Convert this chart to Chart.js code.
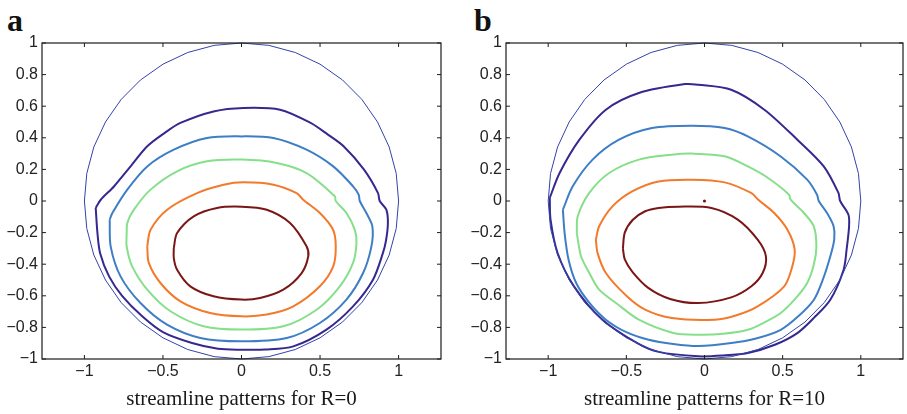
<!DOCTYPE html>
<html><head><meta charset="utf-8">
<script src="https://cdn.jsdelivr.net/npm/chart.js@4/dist/chart.umd.min.js"></script>
<style>
html,body{margin:0;padding:0;background:#fff;width:907px;height:414px;overflow:hidden;}
canvas{position:absolute;top:0;}
.lab{position:absolute;font-family:"Liberation Serif","Times New Roman",serif;font-weight:bold;font-size:32px;line-height:30px;color:#111;}
</style></head><body>
<div class="lab" style="left:7px;top:5px;">a</div>
<div class="lab" style="left:474px;top:5px;">b</div>
<canvas id="ca" width="460" height="414" style="left:0px;"></canvas>
<canvas id="cb" width="447" height="414" style="left:460px;"></canvas>
<script>
// ---- tick values / labels ----
const xTicks = [-1, -0.5, 0, 0.5, 1];
const yTicks = [-1, -0.8, -0.6, -0.4, -0.2, 0, 0.2, 0.4, 0.6, 0.8, 1];
const titleA = "streamline patterns for R=0";
const titleB = "streamline patterns for R=10";

// ---- boundary (unit circle, read points) ----
const boundary = [[1,0],[0.985,0.174],[0.94,0.342],[0.866,0.5],[0.766,0.643],[0.643,0.766],[0.5,0.866],[0.342,0.94],[0.174,0.985],[0,1],
 [-0.174,0.985],[-0.342,0.94],[-0.5,0.866],[-0.643,0.766],[-0.766,0.643],[-0.866,0.5],[-0.94,0.342],[-0.985,0.174],[-1,0],
 [-0.985,-0.174],[-0.94,-0.342],[-0.866,-0.5],[-0.766,-0.643],[-0.643,-0.766],[-0.5,-0.866],[-0.342,-0.94],[-0.174,-0.985],[0,-1],
 [0.174,-0.985],[0.342,-0.94],[0.5,-0.866],[0.643,-0.766],[0.766,-0.643],[0.866,-0.5],[0.94,-0.342],[0.985,-0.174],[1,0]];

// ---- panel a (R=0) contours ----
const a1 = [[-0.928,-0.044],[-0.896,0.008],[-0.812,0.092],[-0.706,0.219],[-0.6,0.346],[-0.49,0.43],[-0.389,0.494],[-0.178,0.567],[0.013,0.589],[0.245,0.578],[0.44,0.494],[0.55,0.42],[0.65,0.346],[0.78,0.198],[0.869,0.05],[0.88,0],[0.922,-0.055],[0.932,-0.139],[0.92,-0.25],[0.90,-0.33],[0.837,-0.498],[0.71,-0.667],[0.541,-0.814],[0.33,-0.92],[0.15,-0.94],[0,-0.941],[-0.15,-0.935],[-0.315,-0.899],[-0.50,-0.83],[-0.632,-0.73],[-0.76,-0.60],[-0.843,-0.477],[-0.90,-0.33],[-0.917,-0.203],[-0.928,-0.044]];
const a2 = [[-0.839,-0.118],[-0.822,-0.076],[-0.727,0.072],[-0.6,0.219],[-0.431,0.325],[-0.22,0.399],[0,0.409],[0.203,0.399],[0.414,0.325],[0.584,0.219],[0.71,0.093],[0.746,0.04],[0.753,0],[0.795,-0.076],[0.833,-0.16],[0.827,-0.287],[0.774,-0.456],[0.668,-0.624],[0.499,-0.772],[0.288,-0.867],[0,-0.888],[-0.262,-0.867],[-0.474,-0.783],[-0.643,-0.646],[-0.77,-0.477],[-0.833,-0.287],[-0.839,-0.118]];
const a3 = [[-0.731,-0.203],[-0.727,-0.139],[-0.685,-0.055],[-0.579,0.072],[-0.41,0.188],[-0.22,0.251],[0,0.262],[0.224,0.241],[0.414,0.177],[0.594,0.03],[0.6,0],[0.668,-0.076],[0.721,-0.181],[0.732,-0.266],[0.71,-0.392],[0.626,-0.54],[0.478,-0.688],[0.266,-0.793],[0,-0.814],[-0.241,-0.793],[-0.452,-0.698],[-0.6,-0.561],[-0.696,-0.414],[-0.731,-0.287],[-0.731,-0.203]];
const a4 = [[-0.6,-0.287],[-0.579,-0.182],[-0.473,-0.055],[-0.283,0.05],[-0.114,0.103],[0.013,0.118],[0.203,0.103],[0.351,0.05],[0.393,0.008],[0.499,-0.076],[0.583,-0.182],[0.6,-0.287],[0.584,-0.414],[0.499,-0.54],[0.33,-0.667],[0.161,-0.719],[0,-0.73],[-0.199,-0.709],[-0.389,-0.635],[-0.516,-0.519],[-0.59,-0.392],[-0.6,-0.287]];
const a5 = [[-0.431,-0.297],[-0.41,-0.203],[-0.304,-0.097],[-0.156,-0.044],[0,-0.036],[0.161,-0.055],[0.309,-0.139],[0.414,-0.287],[0.425,-0.35],[0.383,-0.456],[0.266,-0.561],[0.118,-0.614],[0,-0.624],[-0.178,-0.603],[-0.326,-0.54],[-0.41,-0.435],[-0.431,-0.361],[-0.431,-0.297]];

// ---- panel b (R=10) contours ----
const b1 = [[-0.99,0.02],[-0.927,0.177],[-0.80,0.388],[-0.631,0.578],[-0.42,0.684],[-0.124,0.74],[-0.04,0.736],[0.171,0.704],[0.383,0.578],[0.594,0.388],[0.763,0.219],[0.857,0.051],[0.868,0],[0.921,-0.087],[0.925,-0.16],[0.91,-0.30],[0.89,-0.435],[0.805,-0.625],[0.70,-0.74],[0.594,-0.836],[0.45,-0.91],[0.277,-0.962],[0.12,-0.978],[-0.04,-0.983],[-0.294,-0.955],[-0.43,-0.90],[-0.655,-0.75],[-0.835,-0.54],[-0.94,-0.329],[-0.985,-0.118],[-0.99,0.02]];
const b2 = [[-0.906,-0.055],[-0.843,0.093],[-0.716,0.262],[-0.547,0.388],[-0.336,0.462],[-0.082,0.477],[0.129,0.462],[0.277,0.409],[0.488,0.282],[0.657,0.135],[0.72,0.04],[0.731,0],[0.784,-0.076],[0.826,-0.16],[0.83,-0.245],[0.805,-0.35],[0.76,-0.49],[0.70,-0.625],[0.60,-0.73],[0.488,-0.815],[0.33,-0.87],[0.171,-0.899],[-0.04,-0.918],[-0.20,-0.905],[-0.357,-0.878],[-0.50,-0.83],[-0.631,-0.751],[-0.74,-0.64],[-0.821,-0.519],[-0.87,-0.37],[-0.895,-0.203],[-0.906,-0.055]];
const b3 = [[-0.817,-0.203],[-0.811,-0.097],[-0.737,0.051],[-0.61,0.177],[-0.42,0.262],[-0.209,0.293],[-0.082,0.3],[0.129,0.283],[0.277,0.219],[0.40,0.15],[0.541,0.04],[0.551,0.008],[0.636,-0.076],[0.699,-0.16],[0.716,-0.287],[0.70,-0.40],[0.657,-0.519],[0.58,-0.62],[0.488,-0.709],[0.38,-0.77],[0.277,-0.815],[0.12,-0.84],[-0.04,-0.846],[-0.20,-0.835],[-0.42,-0.751],[-0.56,-0.65],[-0.674,-0.561],[-0.74,-0.45],[-0.79,-0.35],[-0.817,-0.203]];
const b4 = [[-0.695,-0.245],[-0.674,-0.16],[-0.589,-0.034],[-0.463,0.061],[-0.294,0.124],[-0.082,0.135],[0.129,0.118],[0.298,0.051],[0.344,0.008],[0.446,-0.076],[0.53,-0.181],[0.577,-0.308],[0.56,-0.42],[0.51,-0.54],[0.34,-0.667],[0.20,-0.725],[0.066,-0.751],[-0.209,-0.741],[-0.38,-0.688],[-0.50,-0.60],[-0.631,-0.456],[-0.684,-0.33],[-0.695,-0.245]];
const b5 = [[-0.522,-0.30],[-0.51,-0.20],[-0.46,-0.12],[-0.38,-0.065],[-0.294,-0.044],[-0.167,-0.036],[0.044,-0.044],[0.213,-0.118],[0.34,-0.245],[0.393,-0.35],[0.372,-0.456],[0.30,-0.54],[0.171,-0.61],[-0.04,-0.646],[-0.22,-0.62],[-0.36,-0.55],[-0.46,-0.45],[-0.51,-0.37],[-0.522,-0.30]];
const bDot = [[0,0]];

// ---- styles ----
const colBoundary = '#3343A8';
const contourColors = ['#35288F', '#3D7EC6', '#86DF8A', '#F27A2A', '#7A1616'];
const TICK_PX = 16;

function pts(arr){ return arr.map(p => ({x: p[0], y: p[1]})); }
function fmt(v){ const s = String(v); return s.replace('-', '\u2212'); }

const frame = {
  id: 'frame',
  afterDraw(chart){
    const {ctx, chartArea: a, scales} = chart;
    ctx.save();
    ctx.strokeStyle = '#1c1c1c';
    ctx.lineWidth = 1.2;
    ctx.strokeRect(a.left, a.top, a.right - a.left, a.bottom - a.top);
    ctx.lineWidth = 1;
    const L = 4;
    ctx.beginPath();
    xTicks.forEach(v => {
      const px = scales.x.getPixelForValue(v);
      ctx.moveTo(px, a.bottom); ctx.lineTo(px, a.bottom - L);
      ctx.moveTo(px, a.top); ctx.lineTo(px, a.top + L);
    });
    yTicks.forEach(v => {
      const py = scales.y.getPixelForValue(v);
      ctx.moveTo(a.left, py); ctx.lineTo(a.left + L, py);
      ctx.moveTo(a.right, py); ctx.lineTo(a.right - L, py);
    });
    ctx.stroke();
    ctx.restore();
  }
};

function makeChart(id, contours, title, yAxisW, padRight, extra){
  const datasets = [{data: pts(boundary), borderColor: colBoundary, borderWidth: 1, tension: 0}];
  contours.forEach((c, i) => datasets.push({data: pts(c), borderColor: contourColors[i], borderWidth: 2, tension: 0.3}));
  if (extra) datasets.push(extra);
  datasets.forEach(d => { d.showLine = d.showLine !== false; if (d.pointRadius === undefined) d.pointRadius = 0; d.clip = false; });
  return new Chart(document.getElementById(id), {
    type: 'scatter',
    data: {datasets},
    options: {
      responsive: false, animation: false,
      layout: {padding: {top: 43, right: padRight, bottom: 0, left: 0}},
      plugins: {legend: {display: false}, tooltip: {enabled: false}},
      scales: {
        x: {
          type: 'linear', min: -1.27, max: 1.27,
          afterBuildTicks: s => { s.ticks = xTicks.map(v => ({value: v})); },
          afterFit: s => { s.height = 55; },
          grid: {display: false, drawTicks: false},
          border: {display: false},
          ticks: {font: {family: 'Liberation Sans', size: TICK_PX}, color: '#222', padding: 3, maxRotation: 0, autoSkip: false, callback: v => fmt(v)},
          title: {display: true, text: title, color: '#1a1a1a',
                  font: {family: 'Liberation Serif', size: 21},
                  padding: {top: 0, bottom: 2}}
        },
        y: {
          type: 'linear', min: -1, max: 1,
          afterBuildTicks: s => { s.ticks = yTicks.map(v => ({value: v})); },
          afterFit: s => { s.width = yAxisW; },
          grid: {display: false, drawTicks: false},
          border: {display: false},
          ticks: {font: {family: 'Liberation Sans', size: TICK_PX}, color: '#222', padding: 4, autoSkip: false, callback: v => fmt(v)}
        }
      }
    },
    plugins: [frame]
  });
}

makeChart('ca', [a1, a2, a3, a4, a5], titleA, 42, 19, null);
makeChart('cb', [b1, b2, b3, b4, b5], titleB, 46, 1,
  {data: pts(bDot), showLine: false, pointRadius: 1.6, backgroundColor: '#7A1616', borderColor: '#7A1616', borderWidth: 0});
</script>
</body></html>
